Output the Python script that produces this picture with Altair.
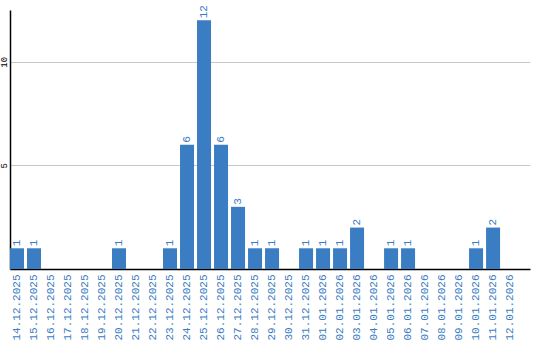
import altair as alt
import pandas as pd

dates = ["14.12.2025", "15.12.2025", "16.12.2025", "17.12.2025", "18.12.2025",
         "19.12.2025", "20.12.2025", "21.12.2025", "22.12.2025", "23.12.2025",
         "24.12.2025", "25.12.2025", "26.12.2025", "27.12.2025", "28.12.2025",
         "29.12.2025", "30.12.2025", "31.12.2025", "01.01.2026", "02.01.2026",
         "03.01.2026", "04.01.2026", "05.01.2026", "06.01.2026", "07.01.2026",
         "08.01.2026", "09.01.2026", "10.01.2026", "11.01.2026", "12.01.2026"]
counts = [1, 1, 0, 0, 0, 0, 1, 0, 0, 1, 6, 12, 6, 3, 1, 1, 0, 1, 1, 1, 2, 0, 1, 1, 0, 0, 0, 1, 2, 0]

df = pd.DataFrame({"date": dates, "count": counts})
df["label"] = [str(c) if c > 0 else "" for c in counts]

BLUE = "#3b7dc2"
FONT = "Liberation Mono"

x = alt.X("date:N", sort=dates, title=None,
          scale=alt.Scale(paddingInner=0.176, paddingOuter=0.38, align=0),
          axis=alt.Axis(labelAngle=-90, labelColor=BLUE, labelFont=FONT, labelFontSize=11,
                        ticks=False, domainColor="black", labelPadding=5, domainWidth=1.5))
y = alt.Y("count:Q", title=None,
          scale=alt.Scale(domain=[0, 12.5], nice=False),
          axis=alt.Axis(values=[5, 10], labelAngle=-90, labelFont=FONT, labelFontSize=9,
                        labelColor="black", ticks=False, domainColor="black",
                        gridColor="#c8c8c8", labelPadding=2, labelAlign="center",
                        labelBaseline="bottom", domainWidth=1.5))

bars = alt.Chart(df).mark_bar(color=BLUE).encode(x=x, y=y)
text = alt.Chart(df).mark_text(angle=270, align="left", baseline="middle", dx=2,
                               color=BLUE, font=FONT, fontSize=11).encode(
    x=alt.X("date:N", sort=dates), y="count:Q", text="label:N")

chart = (bars + text).properties(
    width=520, height=259,
    autosize=alt.AutoSizeParams(type="none"),
    padding={"left": 10, "top": 10, "right": 10, "bottom": 71},
).configure_view(stroke=None).configure_axis(grid=True).configure_axisX(grid=False)

chart.save("out.html", embed_options={"renderer": "svg", "actions": False})
